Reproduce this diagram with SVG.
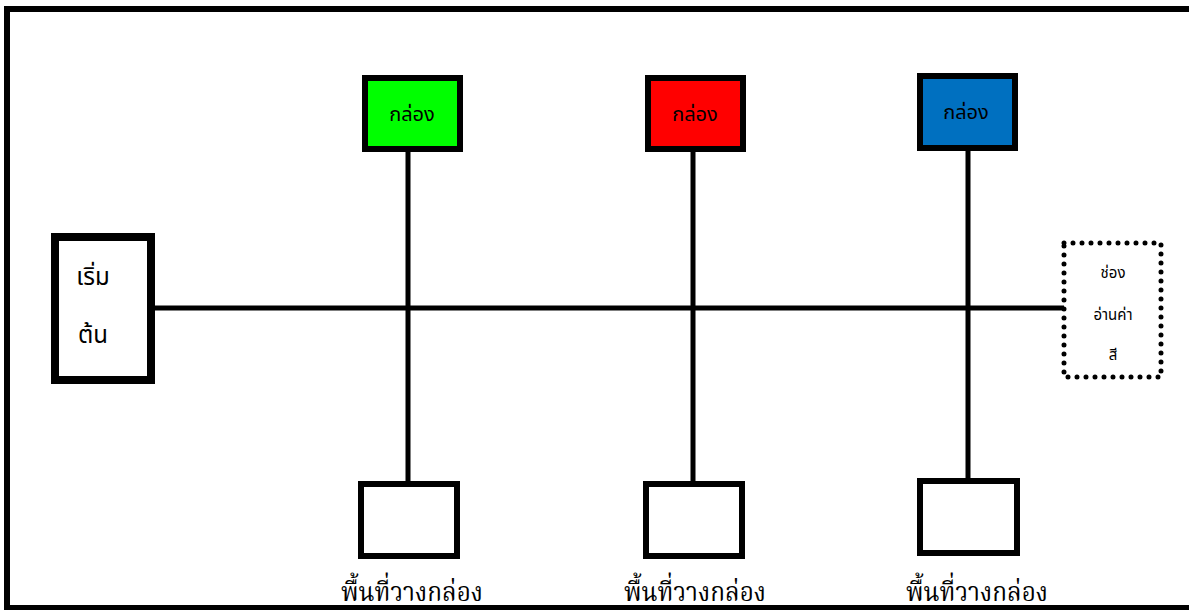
<svg xmlns="http://www.w3.org/2000/svg" width="1189" height="610" viewBox="0 0 1189 610">
<style>
.box{stroke:#000;stroke-width:6;}
.line{stroke:#000;stroke-width:5;fill:none;}
.t{font-family:"Noto Sans Thai","Noto Sans","DejaVu Sans",sans-serif;fill:#000;text-anchor:middle;}
.ts{font-family:"Noto Serif Thai","Noto Sans Thai","Liberation Serif",serif;fill:#000;text-anchor:middle;}
</style>
<rect x="0" y="0" width="1189" height="610" fill="#fff"/>
<rect x="7" y="9" width="1200" height="599" fill="none" stroke="#000" stroke-width="6"/>
<g id="connectors">
<line class="line" x1="151" y1="308" x2="1064" y2="308"/>
<line class="line" x1="408" y1="149" x2="408" y2="484"/>
<line class="line" x1="693" y1="150" x2="693" y2="484"/>
<line class="line" x1="968" y1="148" x2="968" y2="481"/>
</g>
<g id="start">
<rect x="55" y="237" width="96" height="143" fill="#fff" stroke="#000" stroke-width="8"/>
<text class="t" x="93" y="285" font-size="24">เริ่ม</text>
<text class="t" x="93" y="343" font-size="24">ต้น</text>
</g>
<g id="box-green">
<rect class="box" x="365" y="78" width="95" height="71" fill="#00ff00"/>
<text class="t" x="412" y="121" font-size="20">กล่อง</text>
</g>
<g id="box-red">
<rect class="box" x="648" y="78" width="95" height="71" fill="#ff0000"/>
<text class="t" x="695" y="121" font-size="20">กล่อง</text>
</g>
<g id="box-blue">
<rect class="box" x="920" y="76" width="95" height="72" fill="#0070c0"/>
<text class="t" x="966" y="119" font-size="20">กล่อง</text>
</g>
<g id="sensor">
<rect x="1064" y="243" width="97" height="134" fill="#fff" stroke="#000" stroke-width="5" stroke-linecap="round" stroke-dasharray="0 9"/>
<text class="t" x="1113" y="278" font-size="15">ช่อง</text>
<text class="t" x="1113" y="320" font-size="15">อ่านค่า</text>
<text class="t" x="1113" y="360" font-size="15">สี</text>
</g>
<g id="area1">
<rect class="box" x="361" y="484" width="96" height="72" fill="#fff"/>
<text class="ts" x="412" y="601" font-size="27" textLength="142" lengthAdjust="spacingAndGlyphs">พื้นที่วางกล่อง</text>
</g>
<g id="area2">
<rect class="box" x="646" y="484" width="96" height="72" fill="#fff"/>
<text class="ts" x="695" y="601" font-size="27" textLength="142" lengthAdjust="spacingAndGlyphs">พื้นที่วางกล่อง</text>
</g>
<g id="area3">
<rect class="box" x="920" y="481" width="97" height="72" fill="#fff"/>
<text class="ts" x="977" y="601" font-size="27" textLength="142" lengthAdjust="spacingAndGlyphs">พื้นที่วางกล่อง</text>
</g>
</svg>
